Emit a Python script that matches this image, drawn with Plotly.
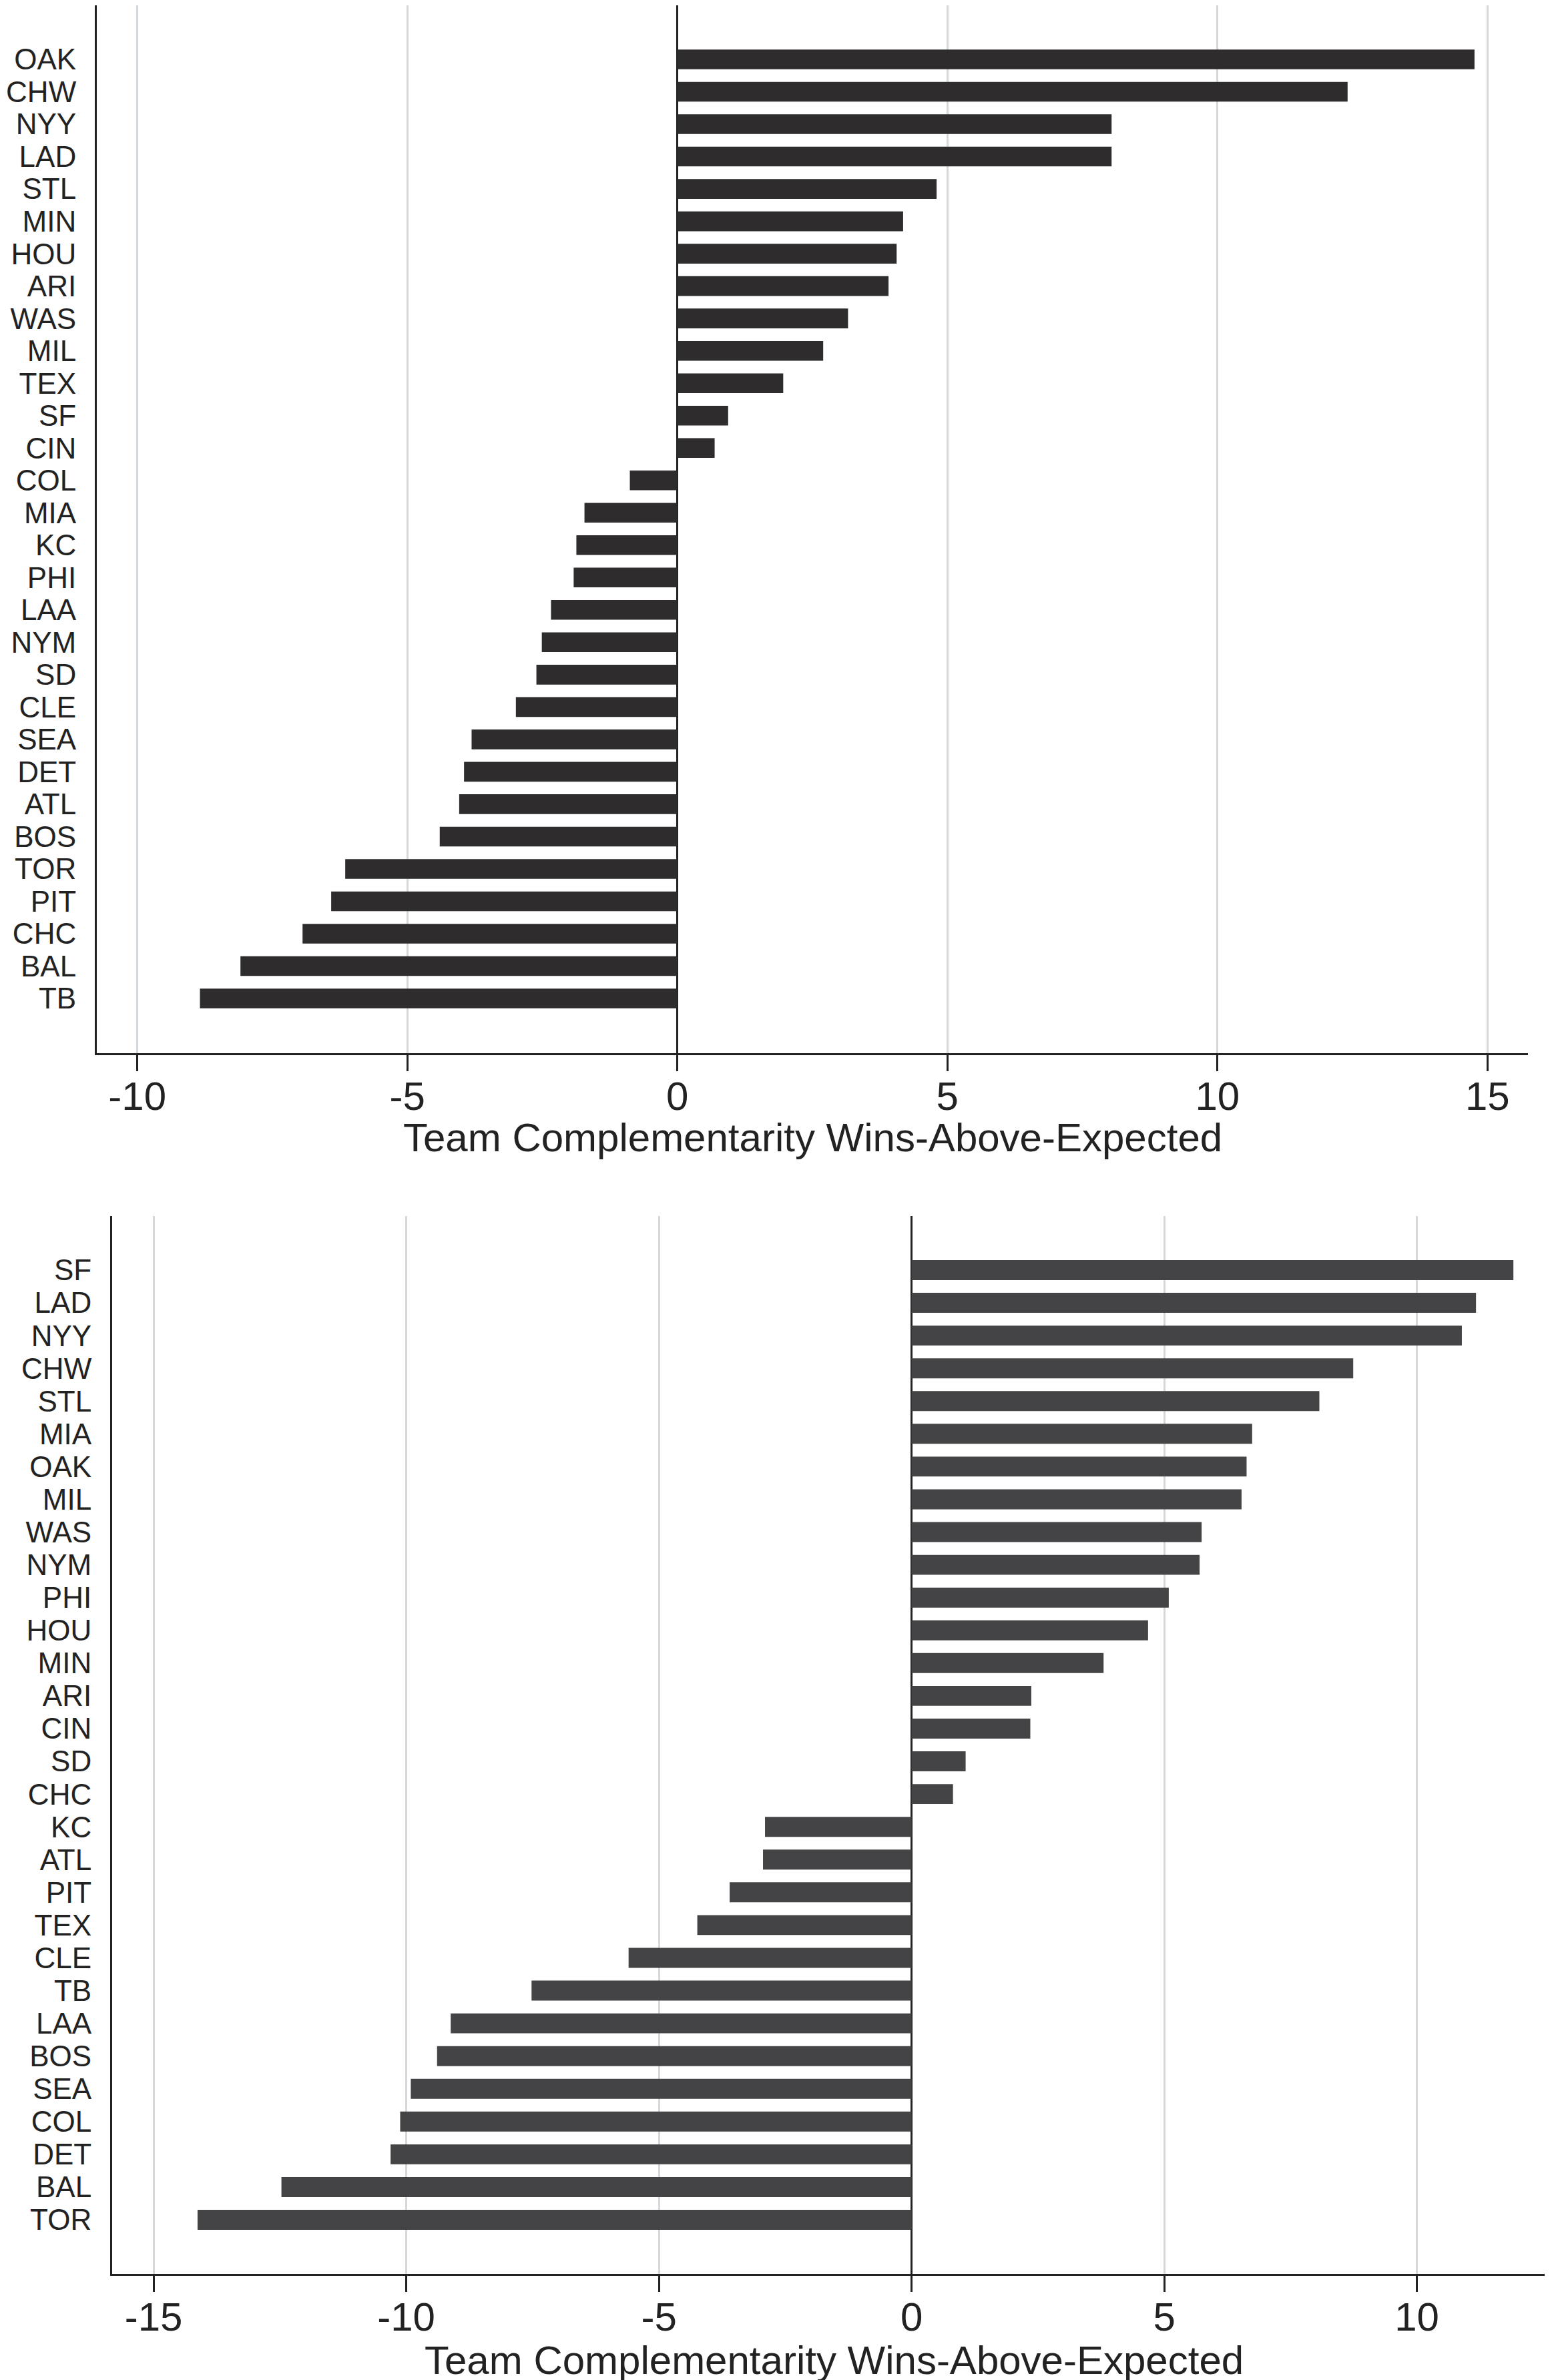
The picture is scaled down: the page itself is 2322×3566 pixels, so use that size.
import plotly.graph_objects as go

# ---- data: top panel ----
teams_top = ["OAK", "CHW", "NYY", "LAD", "STL", "MIN", "HOU", "ARI", "WAS", "MIL",
             "TEX", "SF", "CIN", "COL", "MIA", "KC", "PHI", "LAA", "NYM", "SD",
             "CLE", "SEA", "DET", "ATL", "BOS", "TOR", "PIT", "CHC", "BAL", "TB"]
values_top = [14.76, 12.41, 8.04, 8.04, 4.80, 4.18, 4.06, 3.91, 3.16, 2.70,
              1.96, 0.94, 0.69, -0.88, -1.72, -1.87, -1.92, -2.34, -2.51, -2.61,
              -2.99, -3.81, -3.95, -4.04, -4.40, -6.15, -6.41, -6.94, -8.09, -8.84]

# ---- data: bottom panel ----
teams_bot = ["SF", "LAD", "NYY", "CHW", "STL", "MIA", "OAK", "MIL", "WAS", "NYM",
             "PHI", "HOU", "MIN", "ARI", "CIN", "SD", "CHC", "KC", "ATL", "PIT",
             "TEX", "CLE", "TB", "LAA", "BOS", "SEA", "COL", "DET", "BAL", "TOR"]
values_bot = [11.91, 11.17, 10.89, 8.74, 8.07, 6.74, 6.63, 6.53, 5.74, 5.70,
              5.09, 4.68, 3.80, 2.37, 2.35, 1.07, 0.82, -2.90, -2.94, -3.60,
              -4.24, -5.60, -7.52, -9.12, -9.39, -9.91, -10.12, -10.31, -12.47, -14.13]

x_ticks_top = [-10, -5, 0, 5, 10, 15]
x_ticks_bot = [-15, -10, -5, 0, 5, 10]
x_title = "Team Complementarity Wins-Above-Expected"

W, H = 2322, 3566
FONT = "Liberation Sans, Arial, sans-serif"
DARK = "#222222"
GRID = "#d5d8da"

fig = go.Figure()
fig.add_trace(go.Bar(y=teams_top, x=values_top, orientation="h", width=0.61,
                     marker=dict(color="#2e2c2d", line=dict(width=0)),
                     xaxis="x", yaxis="y", showlegend=False))
fig.add_trace(go.Bar(y=teams_bot, x=values_bot, orientation="h", width=0.61,
                     marker=dict(color="#444446", line=dict(width=0)),
                     xaxis="x2", yaxis="y2", showlegend=False))

def xaxis(domain, rng, ticks, anchor):
    return dict(domain=domain, range=rng, anchor=anchor, automargin=False,
                tickmode="array", tickvals=ticks, ticktext=[str(t) for t in ticks],
                showgrid=True, gridcolor=GRID, gridwidth=3,
                zeroline=True, zerolinecolor=DARK, zerolinewidth=3,
                showline=True, linecolor=DARK, linewidth=3,
                ticks="outside", ticklen=24, tickwidth=3, tickcolor=DARK,
                ticklabelstandoff=-14,
                tickfont=dict(family=FONT, size=60, color=DARK))

def yaxis(domain, cats, rng, anchor):
    return dict(domain=domain, type="category", categoryorder="array",
                categoryarray=cats, range=rng, anchor=anchor, automargin=False,
                tickmode="array", tickvals=cats, ticktext=cats,
                showgrid=False, zeroline=False,
                showline=True, linecolor=DARK, linewidth=3,
                ticks="", ticklabelstandoff=19,
                tickfont=dict(family=FONT, size=44, color=DARK))

xd1 = [137 / W, 2281 / W]
xd2 = [160 / W, 1.0]

fig.update_layout(
    width=W, height=H,
    margin=dict(l=0, r=0, t=0, b=0, autoexpand=False),
    paper_bgcolor="white", plot_bgcolor="white",
    bargap=0.39,
    xaxis=xaxis(xd1, [-10.75, 15.75], x_ticks_top, "y"),
    yaxis=yaxis([1 - 1570 / H, 1.0], teams_top, [30.69, -1.67], "x"),
    xaxis2=xaxis(xd2, [-15.82, 12.74], x_ticks_bot, "y2"),
    yaxis2=yaxis([1 - 3399 / H, 1 - 1814 / H], teams_bot, [30.65, -1.65], "x2"),
)

# axis titles, centred under each panel
for dom, ypix in [(xd1, 1696), (xd2, 3528)]:
    fig.add_annotation(text=x_title, xref="paper", yref="paper",
                       x=(dom[0] + dom[1]) / 2, y=1 - ypix / H,
                       xanchor="center", yanchor="middle", showarrow=False,
                       font=dict(family=FONT, size=60, color=DARK))

fig.write_html("out.html")
